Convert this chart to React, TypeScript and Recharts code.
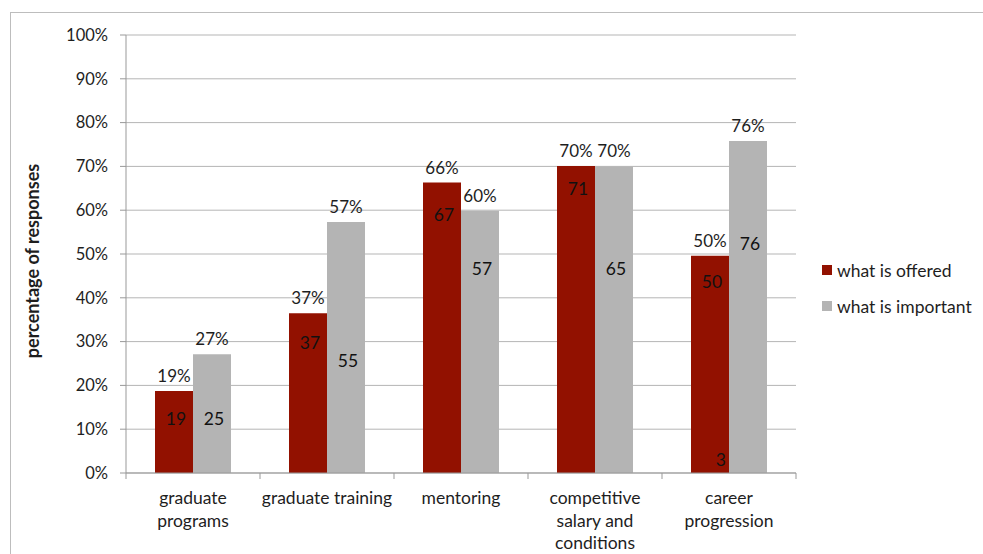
import { Bar, BarChart, CartesianGrid, LabelList, XAxis, YAxis } from "recharts";

const categories = [
  "graduate\nprograms",
  "graduate training",
  "mentoring",
  "competitive\nsalary and\nconditions",
  "career\nprogression",
];

// bar heights (percent of responses)
const offered = [18.7, 36.5, 66.3, 70.1, 49.6];
const important = [27.1, 57.3, 59.9, 70.0, 75.8];

// numbers printed inside the bars, and the level (in %) where each one sits
const offeredInner = [19, 37, 67, 71, 50];
const offeredInnerAt = [12.4, 29.7, 58.9, 64.8, 43.7];
const importantInner = [25, 55, 57, 65, 76];
const importantInnerAt = [12.4, 25.5, 46.6, 46.6, 52.4];
// stray extra label in the last offered bar
const offeredExtra = [null, null, null, null, 3];
const offeredExtraAt = [0, 0, 0, 0, 3.0];

const yTicks = [0, 10, 20, 30, 40, 50, 60, 70, 80, 90, 100];

const seriesNames = ["what is offered", "what is important"];
const colors = ["#921100", "#b4b4b4"];

const FONT = "Lato, 'Noto Sans', sans-serif";
const TEXT = "#1e1e1e";

const data = categories.map((category, i) => ({
  category,
  offered: offered[i],
  important: important[i],
  offeredInner: offeredInner[i],
  importantInner: importantInner[i],
  offeredExtra: offeredExtra[i],
}));

function insideLabel(values: number[], levels: number[], anchor: "middle" | "end" = "middle") {
  return (props: any) => {
    const { x, y, width, height, index, value } = props;
    if (value == null) return null;
    const v = values[index];
    const cy = y + height - (height * levels[index]) / v;
    const cx = anchor === "end" ? x + width - 3 : x + width / 2 + 2;
    return (
      <text
        x={cx}
        y={cy}
        dy="0.35em"
        textAnchor={anchor}
        fontSize={17.5}
        fontFamily={FONT}
        fill="#111"
      >
        {value}
      </text>
    );
  };
}

function CategoryTick(props: any) {
  const { x, y, payload, index } = props;
  const half = payload.offset ?? 0;
  const lines = String(payload.value).split("\n");
  const last = index === categories.length - 1;
  return (
    <g>
      <line x1={x - half} x2={x - half} y1={y} y2={y + 6} stroke="#999" />
      {last && <line x1={x + half} x2={x + half} y1={y} y2={y + 6} stroke="#999" />}
      <text x={x} y={y + 31} textAnchor="middle" fontSize={17.5} fontFamily={FONT} fill={TEXT}>
        {lines.map((l, i) => (
          <tspan key={i} x={x} dy={i === 0 ? 0 : 22.5}>
            {l}
          </tspan>
        ))}
      </text>
    </g>
  );
}

export default function App() {
  return (
    <div style={{ position: "relative", width: 983, height: 554, overflow: "hidden", background: "#fff" }}>
      <style>{`body{margin:0;overflow:hidden}`}</style>
      <div
        style={{
          position: "absolute",
          left: 10,
          top: 12,
          width: 990,
          height: 560,
          borderLeft: "1.5px solid #bdbdbd",
          borderTop: "1.5px solid #bdbdbd",
        }}
      />
      <div style={{ position: "absolute", left: 0, top: 0 }}>
        <BarChart
          width={983}
          height={554}
          data={data}
          margin={{ top: 35, right: 187, bottom: 1, left: 60 }}
          barGap={0}
          barSize={38}
        >
          <CartesianGrid vertical={false} stroke="#b5b5b5" />
          <XAxis
            dataKey="category"
            height={80}
            interval={0}
            tickLine={false}
            tickSize={0}
            tickMargin={0}
            axisLine={{ stroke: "#999" }}
            tick={<CategoryTick />}
          />
          <YAxis
            width={66}
            domain={[0, 100]}
            ticks={yTicks}
            interval={0}
            tickFormatter={(v) => `${v}%`}
            tickSize={6}
            tickMargin={12}
            axisLine={{ stroke: "#999" }}
            tickLine={{ stroke: "#999" }}
            tick={{ fontSize: 16.5, fontFamily: FONT, fill: TEXT }}
          />
          <Bar dataKey="offered" fill={colors[0]} isAnimationActive={false}>
            <LabelList
              dataKey="offered"
              position="top"
              offset={9}
              formatter={(v: any) => `${Math.round(Number(v))}%`}
              style={{ fontSize: 17, fontFamily: FONT, fill: TEXT }}
            />
            <LabelList dataKey="offeredInner" content={insideLabel(offered, offeredInnerAt)} />
            <LabelList dataKey="offeredExtra" content={insideLabel(offered, offeredExtraAt, "end")} />
          </Bar>
          <Bar dataKey="important" fill={colors[1]} isAnimationActive={false}>
            <LabelList
              dataKey="important"
              position="top"
              offset={9}
              formatter={(v: any) => `${Math.round(Number(v))}%`}
              style={{ fontSize: 17, fontFamily: FONT, fill: TEXT }}
            />
            <LabelList dataKey="importantInner" content={insideLabel(important, importantInnerAt)} />
          </Bar>
        </BarChart>
      </div>
      <div
        style={{
          position: "absolute",
          left: 32,
          top: 261,
          transform: "translate(-50%, -50%) rotate(-90deg)",
          whiteSpace: "nowrap",
          fontFamily: FONT,
          fontWeight: 700,
          fontSize: 18,
          color: TEXT,
        }}
      >
        percentage of responses
      </div>
      {seriesNames.map((name, i) => (
        <div
          key={name}
          style={{
            position: "absolute",
            left: 822,
            top: 259 + i * 36,
            height: 22,
            display: "flex",
            alignItems: "center",
            fontFamily: FONT,
            fontSize: 17.5,
            color: TEXT,
            whiteSpace: "nowrap",
          }}
        >
          <span style={{ width: 10, height: 10, background: colors[i], marginRight: 5, display: "inline-block" }} />
          {name}
        </div>
      ))}
    </div>
  );
}
